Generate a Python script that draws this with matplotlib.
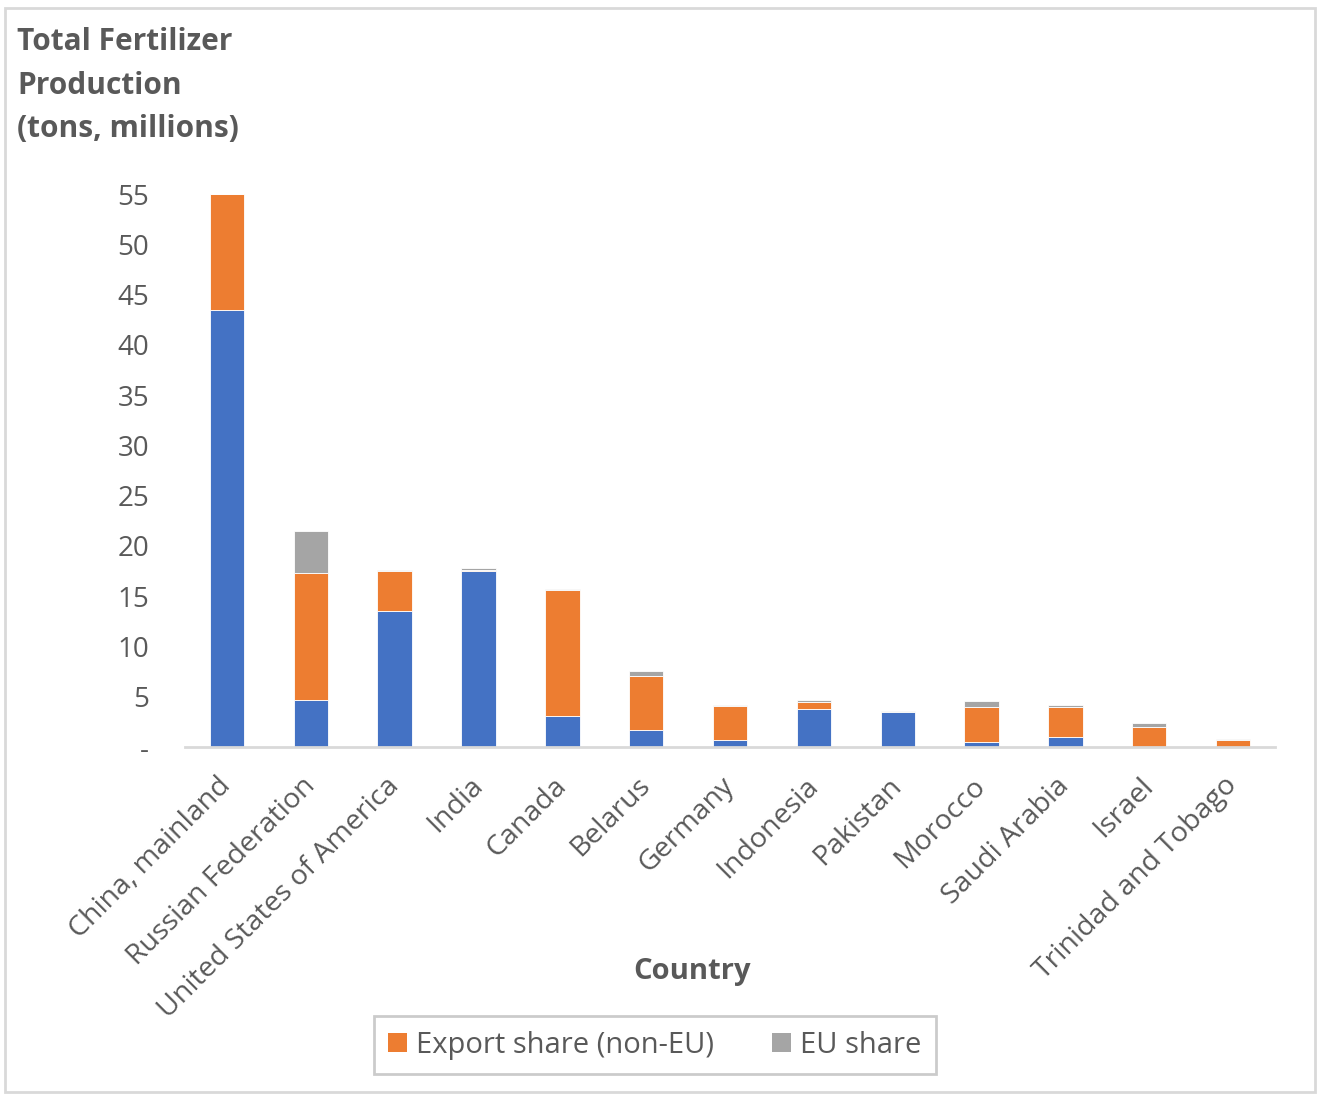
import matplotlib
matplotlib.use("Agg")
import matplotlib.pyplot as plt
import numpy as np
from matplotlib.patches import Rectangle, Patch

# data (millions of tons)
countries = ["China, mainland", "Russian Federation", "United States of America",
             "India", "Canada", "Belarus", "Germany", "Indonesia", "Pakistan",
             "Morocco", "Saudi Arabia", "Israel", "Trinidad and Tobago"]
domestic = [43.5, 4.7, 13.5, 17.5, 3.05, 1.7, 0.67, 3.8, 3.45, 0.47, 1.0, 0.0, 0.0]
export_non_eu = [11.5, 12.6, 4.0, 0.15, 12.55, 5.4, 3.43, 0.7, 0.05, 3.53, 3.0, 2.0, 0.67]
eu_share = [0.05, 4.2, 0.15, 0.15, 0.15, 0.5, 0.05, 0.15, 0.1, 0.6, 0.15, 0.4, 0.16]

yticks = [0, 5, 10, 15, 20, 25, 30, 35, 40, 45, 50, 55]
ytick_labels = ["-"] + [str(v) for v in yticks[1:]]

blue = "#4472C4"
orange = "#ED7D31"
grey = "#A5A5A5"
text_grey = "#595959"

plt.rcParams["font.family"] = ["Open Sans", "DejaVu Sans"]

fig = plt.figure(figsize=(13.19, 10.95), dpi=100)
ax = fig.add_axes([0.1403, 0.3178, 0.8264, 0.505])

x = np.arange(len(countries))
w = 0.41
b1 = np.array(domestic)
b2 = b1 + np.array(export_non_eu)
ax.bar(x, domestic, w, color=blue, edgecolor="white", linewidth=0.6)
ax.bar(x, export_non_eu, w, bottom=b1, color=orange, edgecolor="white", linewidth=0.6)
ax.bar(x, eu_share, w, bottom=b2, color=grey, edgecolor="white", linewidth=0.6)

ax.set_xlim(-0.5, len(countries) - 0.5)
ax.set_ylim(0, 55)
ax.set_yticks(yticks)
ax.set_yticklabels(ytick_labels, fontsize=20, color=text_grey)
ax.set_xticks(x)
ax.set_xticklabels(countries, rotation=45, ha="right", va="center",
                   rotation_mode="anchor", fontsize=20.5, color=text_grey)
ax.tick_params(axis="y", length=0, pad=26)
ax.tick_params(axis="x", length=0, pad=25)

for s in ["top", "right", "left"]:
    ax.spines[s].set_visible(False)
ax.spines["bottom"].set_color("#D9D9D9")
ax.spines["bottom"].set_linewidth(2)

fig.text(0.013, 0.975, "Total Fertilizer\nProduction\n(tons, millions)",
         fontsize=21.5, fontweight="bold", color=text_grey, va="top", ha="left",
         linespacing=1.58)
fig.text(0.525, 0.113, "Country", fontsize=21, fontweight="bold",
         color=text_grey, ha="center", va="center")

handles = [Patch(facecolor=orange, label="Export share (non-EU)"),
           Patch(facecolor=grey, label="EU share")]
leg = fig.legend(handles=handles, loc="center", bbox_to_anchor=(0.4965, 0.0455),
                 ncol=2, fontsize=21, frameon=True, fancybox=False,
                 handlelength=0.65, handleheight=0.65, handletextpad=0.3,
                 columnspacing=2.0, borderpad=0.5, borderaxespad=0)
leg.get_frame().set_edgecolor("#BFBFBF")
leg.get_frame().set_linewidth(2)
for t in leg.get_texts():
    t.set_color(text_grey)

fig.patches.append(Rectangle((0.004, 0.003), 0.993, 0.99, transform=fig.transFigure,
                             fill=False, edgecolor="#D9D9D9", linewidth=2))

fig.savefig("out.png", dpi=100)
